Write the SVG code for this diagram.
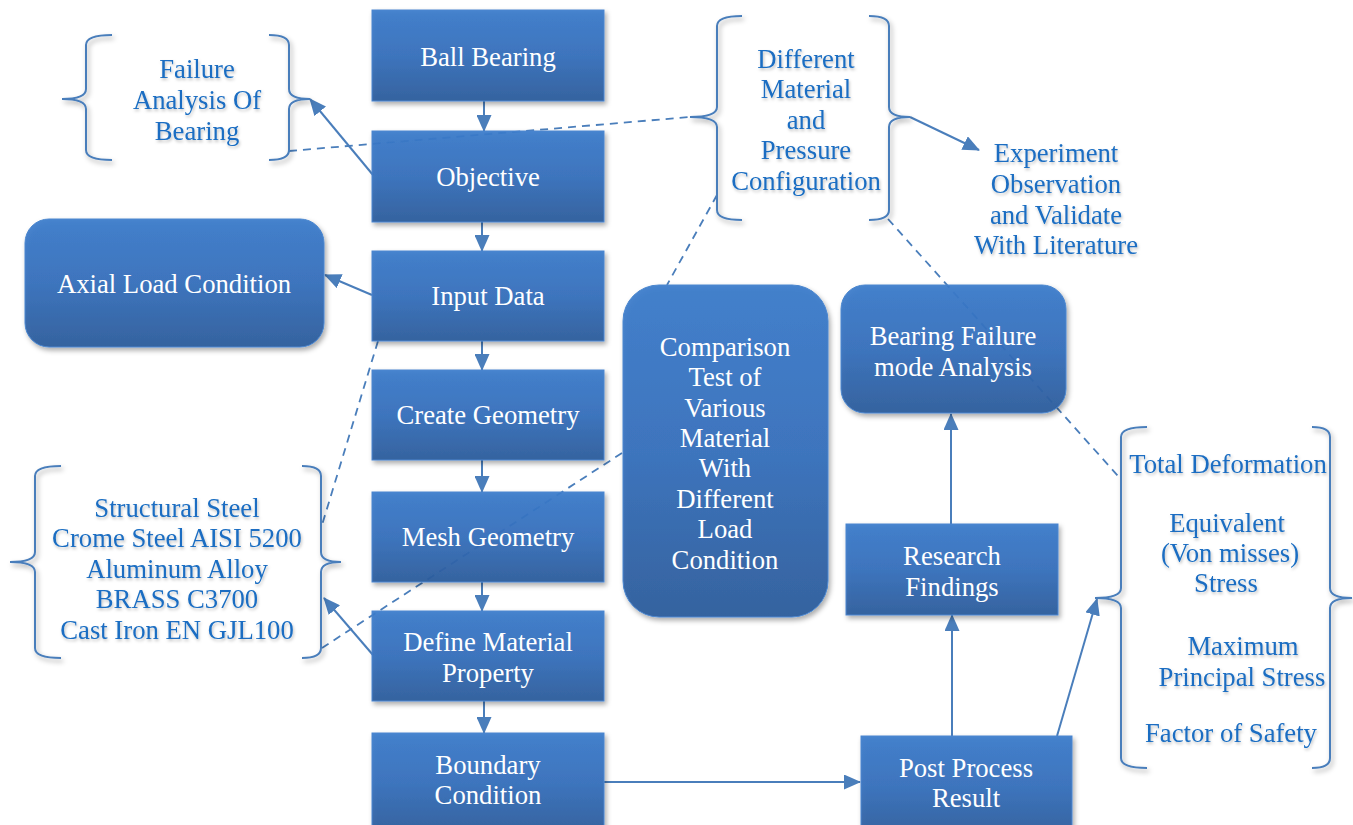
<svg xmlns="http://www.w3.org/2000/svg" width="1353" height="825" viewBox="0 0 1353 825">
<defs>
<linearGradient id="g" x1="0" y1="0" x2="0" y2="1">
<stop offset="0" stop-color="#3a7bcb"/>
<stop offset="0.5" stop-color="#356fbc"/>
<stop offset="1" stop-color="#2c5c9c"/>
</linearGradient>
<filter id="sh" x="-10%" y="-10%" width="125%" height="130%">
<feDropShadow dx="2" dy="3" stdDeviation="2.5" flood-color="#000" flood-opacity="0.35"/>
</filter>
<filter id="ts" x="-10%" y="-20%" width="120%" height="150%">
<feDropShadow dx="1" dy="2" stdDeviation="1.5" flood-color="#000" flood-opacity="0.25"/>
</filter>
<marker id="ah" viewBox="0 0 17 15" refX="16" refY="7.5" markerWidth="17" markerHeight="15" markerUnits="userSpaceOnUse" orient="auto">
<path d="M0,0 L17,7.5 L0,15 z" fill="#4a7ebb"/>
</marker>
</defs>
<style>
.box{fill:url(#g);fill-opacity:0.93;stroke:#4a86cf;stroke-width:1;filter:url(#sh)}
.bt{font-family:"Liberation Serif","Times New Roman",serif;font-size:26.7px;fill:#ffffff;text-anchor:middle}
.blt{font-family:"Liberation Serif","Times New Roman",serif;font-size:26.7px;fill:#1a6dc2;text-anchor:middle;filter:url(#ts)}
.br{fill:none;stroke:#4a7ebb;stroke-width:2;filter:url(#sh)}
.c{fill:none;stroke:#4a7ebb;stroke-width:2}
.a{marker-end:url(#ah)}
.d{fill:none;stroke:#4a7ebb;stroke-width:1.8;stroke-dasharray:8 6}
</style>
<rect width="1353" height="825" fill="#ffffff"/>

<g id="connectors">
<path class="c a" d="M484,101 V131"/>
<path class="c a" d="M482,222 V251"/>
<path class="c a" d="M482,341 V370"/>
<path class="c a" d="M482,460 V492"/>
<path class="c a" d="M482,582 V611"/>
<path class="c a" d="M484,701 V733"/>
<path class="c a" d="M604,782 H860"/>
<path class="c a" d="M952,736 V615"/>
<path class="c a" d="M951,524 V414"/>
<path class="c a" d="M1057,736 L1097,599"/>
<path class="c a" d="M373,175 L310,99"/>
<path class="c a" d="M372,295 L325,275"/>
<path class="c a" d="M373,655 L324,598"/>
<path class="c a" d="M910,117 L979,150"/>
<path class="d" d="M289,151 L690,117"/>
<path class="d" d="M717,195 L667,285"/>
<path class="d" d="M378,341 L322,525"/>
<path class="d" d="M622,453 L322,648"/>
<path class="d" d="M888,219 L1118,476"/>
</g>

<g id="ball-bearing">
<rect class="box" x="372" y="10" width="232" height="91"/>
<text class="bt" x="488" y="66">Ball Bearing</text>
</g>
<g id="objective">
<rect class="box" x="372" y="131" width="232" height="91"/>
<text class="bt" x="488" y="186">Objective</text>
</g>
<g id="input-data">
<rect class="box" x="372" y="251" width="232" height="90"/>
<text class="bt" x="488" y="305">Input Data</text>
</g>
<g id="create-geometry">
<rect class="box" x="372" y="370" width="232" height="90"/>
<text class="bt" x="488" y="424">Create Geometry</text>
</g>
<g id="mesh-geometry">
<rect class="box" x="372" y="492" width="232" height="90"/>
<text class="bt" x="488" y="546">Mesh Geometry</text>
</g>
<g id="define-material">
<rect class="box" x="372" y="611" width="232" height="90"/>
<text class="bt" x="488" y="651">Define Material</text>
<text class="bt" x="488" y="682">Property</text>
</g>
<g id="boundary-condition">
<rect class="box" x="372" y="733" width="232" height="100"/>
<text class="bt" x="488" y="774">Boundary</text>
<text class="bt" x="488" y="804">Condition</text>
</g>
<g id="axial-load">
<rect class="box" x="25" y="219" width="299" height="128" rx="24"/>
<text class="bt" x="174" y="293">Axial Load Condition</text>
</g>
<g id="comparison">
<rect class="box" x="623" y="285" width="205" height="332" rx="36"/>
<text class="bt" x="725" y="356">Comparison</text>
<text class="bt" x="725" y="386">Test of</text>
<text class="bt" x="725" y="417">Various</text>
<text class="bt" x="725" y="447">Material</text>
<text class="bt" x="725" y="477">With</text>
<text class="bt" x="725" y="508">Different</text>
<text class="bt" x="725" y="538">Load</text>
<text class="bt" x="725" y="569">Condition</text>
</g>
<g id="bearing-failure">
<rect class="box" x="841" y="285" width="225" height="128" rx="24"/>
<text class="bt" x="953" y="345">Bearing Failure</text>
<text class="bt" x="953" y="376">mode Analysis</text>
</g>
<g id="research-findings">
<rect class="box" x="846" y="524" width="212" height="91"/>
<text class="bt" x="952" y="565">Research</text>
<text class="bt" x="952" y="596">Findings</text>
</g>
<g id="post-process">
<rect class="box" x="861" y="736" width="211" height="100"/>
<text class="bt" x="966" y="777">Post Process</text>
<text class="bt" x="966" y="807">Result</text>
</g>

<g id="failure-analysis">
<path class="br" d="M112,35 Q86,35 86,45 L86,89 Q86,99 62,99 Q86,99 86,109 L86,150 Q86,160 112,160"/>
<path class="br" d="M269,35 Q289,35 289,45 L289,89 Q289,99 310,99 Q289,99 289,109 L289,150 Q289,160 269,160"/>
<text class="blt" x="197" y="78">Failure</text>
<text class="blt" x="197" y="109">Analysis Of</text>
<text class="blt" x="197" y="140">Bearing</text>
</g>
<g id="different-material">
<path class="br" d="M742,16 Q717,16 717,26 L717,107 Q717,117 690,117 Q717,117 717,127 L717,210 Q717,220 742,220"/>
<path class="br" d="M869,16 Q889,16 889,26 L889,107 Q889,117 910,117 Q889,117 889,127 L889,210 Q889,220 869,220"/>
<text class="blt" x="806" y="68">Different</text>
<text class="blt" x="806" y="98">Material</text>
<text class="blt" x="806" y="129">and</text>
<text class="blt" x="806" y="159">Pressure</text>
<text class="blt" x="806" y="190">Configuration</text>
</g>
<g id="experiment">
<text class="blt" x="1056" y="162">Experiment</text>
<text class="blt" x="1056" y="193">Observation</text>
<text class="blt" x="1056" y="224">and Validate</text>
<text class="blt" x="1056" y="254">With Literature</text>
</g>
<g id="materials">
<path class="br" d="M61,466 Q35,466 35,476 L35,552 Q35,562 10,562 Q35,562 35,572 L35,648 Q35,658 61,658"/>
<path class="br" d="M302,466 Q321,466 321,476 L321,552 Q321,562 341,562 Q321,562 321,572 L321,648 Q321,658 302,658"/>
<text class="blt" x="177" y="517">Structural Steel</text>
<text class="blt" x="177" y="547">Crome Steel AISI 5200</text>
<text class="blt" x="177" y="578">Aluminum Alloy</text>
<text class="blt" x="177" y="608">BRASS C3700</text>
<text class="blt" x="177" y="639">Cast Iron EN GJL100</text>
</g>
<g id="results">
<path class="br" d="M1147,427 Q1121,427 1121,437 L1121,588 Q1121,598 1095,598 Q1121,598 1121,608 L1121,758 Q1121,768 1147,768"/>
<path class="br" d="M1312,427 Q1330,427 1330,437 L1330,588 Q1330,598 1352,598 Q1330,598 1330,608 L1330,758 Q1330,768 1312,768"/>
<text class="blt" x="1228" y="473">Total Deformation</text>
<text class="blt" x="1227" y="532">Equivalent</text>
<text class="blt" x="1230" y="562">(Von misses)</text>
<text class="blt" x="1226" y="592">Stress</text>
<text class="blt" x="1243" y="655">Maximum</text>
<text class="blt" x="1242" y="686">Principal Stress</text>
<text class="blt" x="1231" y="742">Factor of Safety</text>
</g>
</svg>
